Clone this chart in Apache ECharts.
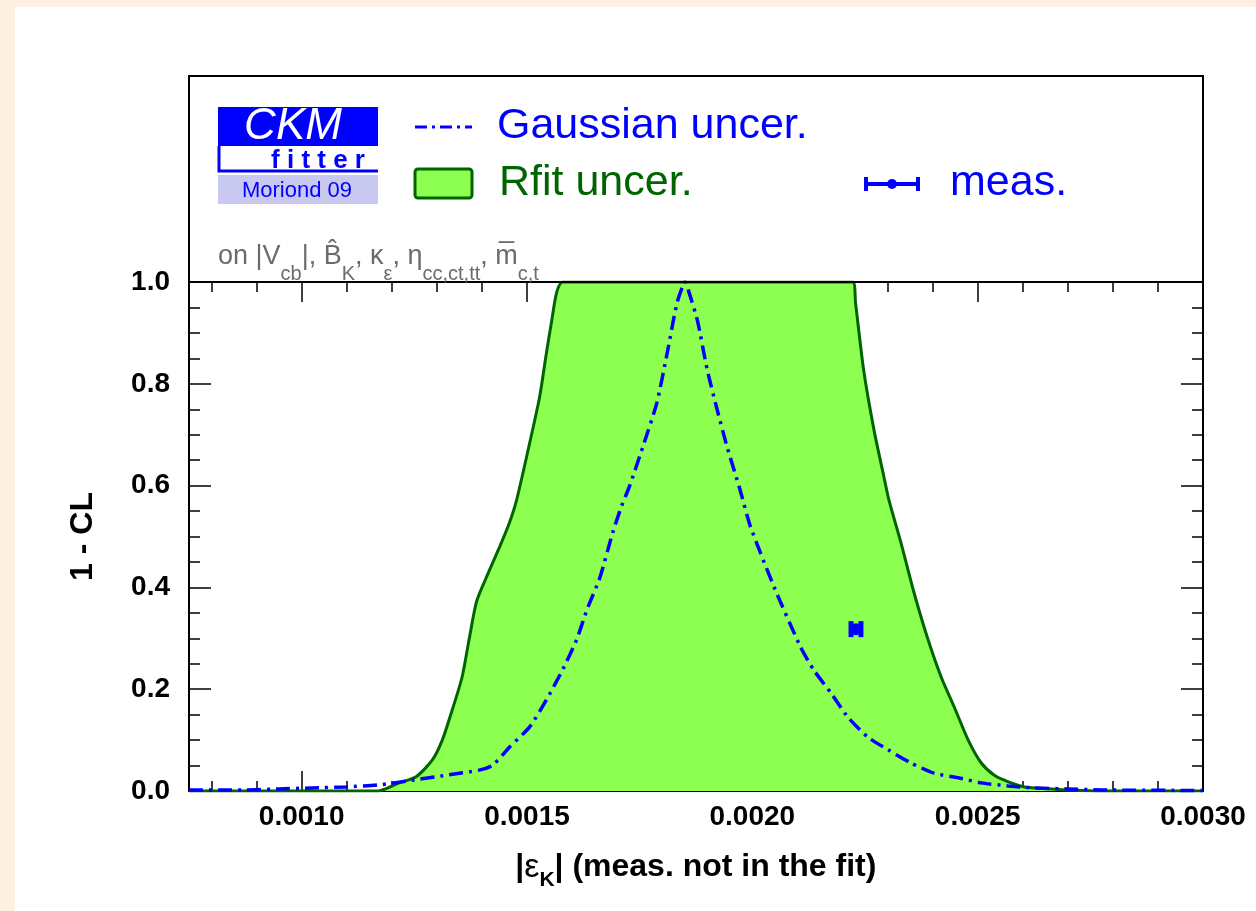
<!DOCTYPE html>
<html>
<head>
<meta charset="utf-8">
<script src="https://cdn.jsdelivr.net/npm/echarts@6/dist/echarts.min.js"></script>
<style>html,body{margin:0;padding:0;background:#fff}#c{width:1256px;height:911px}</style>
</head>
<body>
<div id="c"></div>
<script>
// ---- data ----
const xMin = 0.00075, xMax = 0.0030;
const xTickLabels = [0.0010, 0.0015, 0.0020, 0.0025, 0.0030];
const yTickLabels = [0.0, 0.2, 0.4, 0.6, 0.8, 1.0];

const rfitX = [0.00075,0.00117,0.001216,0.001254,0.00129,0.001312,0.001334,0.001356,0.001372,0.001388,0.00141,0.001439,0.001461,0.001477,0.001506,0.001528,0.001543,0.001555,0.001566,0.001579,0.002223,0.002229,0.002247,0.00227,0.002292,0.002303,0.00233,0.002359,0.00239,0.002419,0.002448,0.002479,0.002508,0.002537,0.002568,0.002604,0.002664,0.002702,0.002775,0.0030];
const rfitY = [0,0,0.016,0.028,0.061,0.100,0.159,0.224,0.300,0.372,0.420,0.479,0.527,0.572,0.684,0.774,0.860,0.925,0.980,1.0,1.0,0.959,0.827,0.709,0.617,0.572,0.487,0.389,0.297,0.224,0.165,0.100,0.055,0.031,0.018,0.008,0.004,0.002,0,0];

const gaussX = [0.00075,0.000875,0.000949,0.001022,0.001098,0.001172,0.001245,0.001321,0.001394,0.001423,0.001461,0.001506,0.001543,0.001579,0.00161,0.001633,0.001662,0.00169,0.00171,0.001728,0.001757,0.001788,0.001811,0.001833,0.001851,0.001858,0.001878,0.0019,0.001922,0.001944,0.001973,0.001996,0.002051,0.002107,0.002136,0.002174,0.002212,0.002256,0.002301,0.002352,0.002403,0.002457,0.002508,0.002568,0.002626,0.002702,0.002775,0.0030];
const gaussY = [0.002,0.002,0.004,0.006,0.008,0.012,0.021,0.031,0.041,0.050,0.086,0.126,0.179,0.238,0.297,0.356,0.420,0.507,0.560,0.600,0.676,0.762,0.860,0.959,1.0,0.984,0.925,0.827,0.749,0.676,0.591,0.519,0.395,0.283,0.238,0.193,0.145,0.106,0.081,0.055,0.035,0.026,0.016,0.010,0.006,0.004,0.002,0.001];

const measX = [0.00223];
const measY = [0.318];
const measErr = [0.000011];

// ---- derived ----
const xMinor = [];
for (let i = 8; i <= 30; i++) { if (i % 5 !== 0) xMinor.push(i / 10000); }
const rfitData = rfitX.map((x, i) => [x, rfitY[i]]);
const gaussData = gaussX.map((x, i) => [x, gaussY[i]]);
const measData = measX.map((x, i) => [x, measY[i], measErr[i]]);

const BLUE = '#0000ff', GREEN = '#8cff50', DGREEN = '#006400', FONT = '"Liberation Sans", Arial, sans-serif';

const chart = echarts.init(document.getElementById('c'), null, {renderer: 'canvas'});

function xAxisDef(pos, major, showLabel, showLine) {
  return {
    type: 'value', min: xMin, max: xMax, position: pos,
    axisLine: {show: showLine, onZero: false, lineStyle: {color: '#000', width: 2}},
    axisTick: {show: true, inside: true, length: major ? 20 : 10, customValues: major ? xTickLabels : xMinor, lineStyle: {color: '#000', width: 1.5}},
    axisLabel: showLabel ? {show: true, customValues: xTickLabels, formatter: v => v.toFixed(4), margin: 12,
      fontFamily: FONT, fontWeight: 'bold', fontSize: 28, color: '#000'} : {show: false},
    splitLine: {show: false}
  };
}

const yBase = (pos, showLabel) => ({
  type: 'value', min: 0, max: 1, interval: 0.2, position: pos,
  axisLine: {show: true, onZero: false, lineStyle: {color: '#000', width: 2}},
  axisTick: {show: true, inside: true, length: 22, lineStyle: {color: '#000', width: 1.5}},
  minorTick: {show: true, splitNumber: 4, length: 11, lineStyle: {color: '#000', width: 1.5}},
  axisLabel: showLabel ? {show: true, formatter: v => v.toFixed(1), margin: 19, fontFamily: FONT, fontWeight: 'bold', fontSize: 28, color: '#000'} : {show: false},
  splitLine: {show: false}, minorSplitLine: {show: false}
});

const xMain = xAxisDef('bottom', true, true, true);
xMain.name = '{a||}{e|ε}{s|K}{a|| (meas. not in the fit)}{sp| }';
xMain.nameLocation = 'middle';
xMain.nameGap = 60;
xMain.nameTextStyle = {
  fontFamily: FONT, fontWeight: 'bold', fontSize: 32, color: '#000',
  rich: {
    a: {fontFamily: FONT, fontWeight: 'bold', fontSize: 32, lineHeight: 34, verticalAlign: 'top', color: '#000'},
    e: {fontFamily: FONT, fontWeight: 'normal', fontSize: 34, lineHeight: 34, verticalAlign: 'top', color: '#000'},
    s: {fontFamily: FONT, fontWeight: 'bold', fontSize: 21, lineHeight: 20, verticalAlign: 'bottom', color: '#000'},
    sp: {fontSize: 1, lineHeight: 40}
  }
};

const yMain = yBase('left', true);
yMain.name = '1 - CL';
yMain.nameLocation = 'middle';
yMain.nameGap = 90;
yMain.nameTextStyle = {fontFamily: FONT, fontWeight: 'bold', fontSize: 32, color: '#000'};

const subRich = {
  m: {fontFamily: FONT, fontSize: 27, lineHeight: 32, verticalAlign: 'top', fill: '#6b6b6b'},
  s: {fontFamily: FONT, fontSize: 20, lineHeight: 20, verticalAlign: 'bottom', fill: '#6b6b6b'},
  sp: {fontSize: 1, lineHeight: 41}
};

const option = {
  backgroundColor: '#fdf0e3',
  animation: false,
  grid: {left: 189, right: 53, top: 282, bottom: 120, containLabel: false},
  xAxis: [xMain, xAxisDef('bottom', false, false, false), xAxisDef('top', true, false, true), xAxisDef('top', false, false, false)],
  yAxis: [yMain, yBase('right', false)],
  graphic: [
    {type: 'rect', z: -10, shape: {x: 15, y: 7, width: 1241, height: 904}, style: {fill: '#fff'}},
    {type: 'rect', z: 10, shape: {x: 189, y: 76, width: 1014, height: 206}, style: {fill: 'none', stroke: '#000', lineWidth: 2}},
    // CKMfitter logo
    {type: 'rect', z: 10, shape: {x: 218, y: 107, width: 160, height: 39}, style: {fill: BLUE}},
    {type: 'text', z: 11, x: 293, y: 127, style: {text: 'CKM', fill: '#fff', fontFamily: FONT, fontStyle: 'italic', fontSize: 44, align: 'center', verticalAlign: 'middle'}},
    {type: 'polyline', z: 10, shape: {points: [[219, 146], [219, 171], [378, 171]]}, style: {fill: 'none', stroke: BLUE, lineWidth: 3}},
    {type: 'text', z: 11, x: 318, y: 161, style: {text: 'f i t t e r', fill: BLUE, fontFamily: FONT, fontWeight: 'bold', fontSize: 26, align: 'center', verticalAlign: 'middle'}},
    {type: 'rect', z: 10, shape: {x: 218, y: 175, width: 160, height: 29}, style: {fill: '#c8c8f0'}},
    {type: 'text', z: 11, x: 297, y: 191, style: {text: 'Moriond 09', fill: BLUE, fontFamily: FONT, fontSize: 22, align: 'center', verticalAlign: 'middle'}},
    // legend
    {type: 'line', z: 10, shape: {x1: 415, y1: 127, x2: 472, y2: 127}, style: {stroke: BLUE, lineWidth: 3, lineDash: [12, 5, 3, 5]}},
    {type: 'text', z: 10, x: 497, y: 126, style: {text: 'Gaussian uncer.', fill: BLUE, fontFamily: FONT, fontSize: 43, verticalAlign: 'middle'}},
    {type: 'rect', z: 10, shape: {x: 415, y: 169, width: 57, height: 29, r: 3}, style: {fill: GREEN, stroke: DGREEN, lineWidth: 3}},
    {type: 'text', z: 10, x: 499, y: 183, style: {text: 'Rfit uncer.', fill: DGREEN, fontFamily: FONT, fontSize: 43, verticalAlign: 'middle'}},
    {type: 'line', z: 10, shape: {x1: 865, y1: 184, x2: 919, y2: 184}, style: {stroke: BLUE, lineWidth: 4}},
    {type: 'line', z: 10, shape: {x1: 866, y1: 177, x2: 866, y2: 191}, style: {stroke: BLUE, lineWidth: 4}},
    {type: 'line', z: 10, shape: {x1: 918, y1: 177, x2: 918, y2: 191}, style: {stroke: BLUE, lineWidth: 4}},
    {type: 'circle', z: 10, shape: {cx: 892, cy: 184, r: 5}, style: {fill: BLUE}},
    {type: 'text', z: 10, x: 950, y: 183, style: {text: 'meas.', fill: BLUE, fontFamily: FONT, fontSize: 43, verticalAlign: 'middle'}},
    // subtitle
    {type: 'text', z: 10, x: 218, y: 243, style: {
      text: '{m|on |V}{s|cb}{m||, B\u0302}{s|K}{m|, κ}{s|ε}{m|, η}{s|cc,ct,tt}{m|, m\u0305}{s|c,t}{sp| }',
      verticalAlign: 'top', rich: subRich, fill: '#6b6b6b', fontFamily: FONT, fontSize: 27}}
  ],
  series: [
    {
      name: 'Rfit uncer.', type: 'line', xAxisIndex: 0, yAxisIndex: 0, data: rfitData,
      showSymbol: false, smooth: 0.25, clip: true, z: 2,
      lineStyle: {color: DGREEN, width: 3}, areaStyle: {color: GREEN, opacity: 1}
    },
    {
      name: 'Gaussian uncer.', type: 'line', xAxisIndex: 0, yAxisIndex: 0, data: gaussData,
      showSymbol: false, smooth: 0.2, clip: true, z: 3,
      lineStyle: {color: BLUE, width: 3.5, type: [14, 6, 3, 6]}
    },
    {
      name: 'meas.', type: 'custom', xAxisIndex: 0, yAxisIndex: 0, data: measData, z: 4,
      renderItem: function (params, api) {
        const c = api.coord([api.value(0), api.value(1)]);
        const l = api.coord([api.value(0) - api.value(2), api.value(1)]);
        const r = api.coord([api.value(0) + api.value(2), api.value(1)]);
        return {type: 'group', children: [
          {type: 'line', shape: {x1: l[0], y1: c[1], x2: r[0], y2: c[1]}, style: {stroke: BLUE, lineWidth: 5}},
          {type: 'line', shape: {x1: l[0], y1: c[1] - 8, x2: l[0], y2: c[1] + 8}, style: {stroke: BLUE, lineWidth: 5}},
          {type: 'line', shape: {x1: r[0], y1: c[1] - 8, x2: r[0], y2: c[1] + 8}, style: {stroke: BLUE, lineWidth: 5}},
          {type: 'circle', shape: {cx: c[0], cy: c[1], r: 6}, style: {fill: BLUE}}
        ]};
      }
    }
  ]
};
chart.setOption(option);
</script>
</body>
</html>
